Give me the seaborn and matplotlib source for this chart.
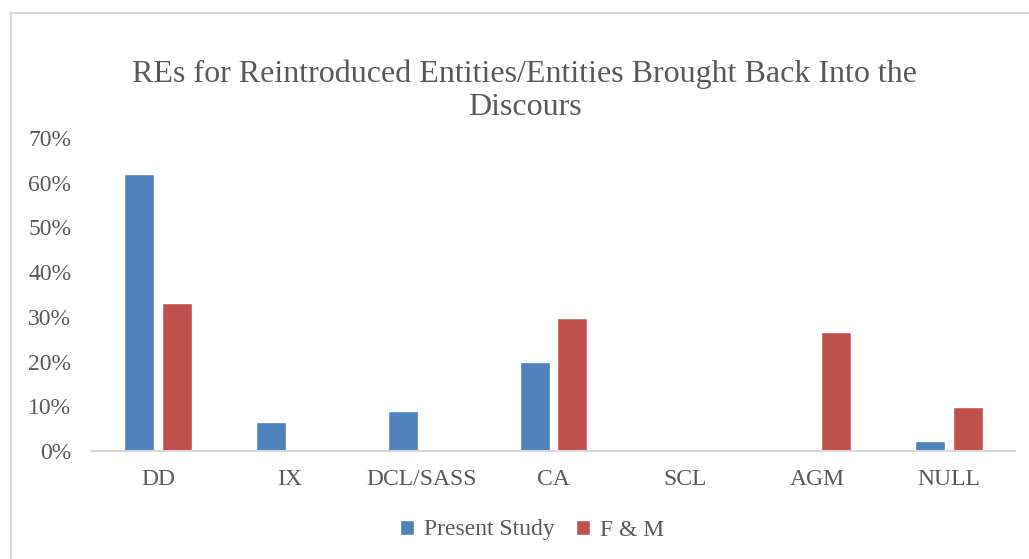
import matplotlib
matplotlib.use("Agg")
import matplotlib.pyplot as plt
from matplotlib.lines import Line2D
import seaborn as sns
import pandas as pd

categories = ["DD", "IX", "DCL/SASS", "CA", "SCL", "AGM", "NULL"]
present_study = [0.62, 0.065, 0.089, 0.199, 0.0, 0.0, 0.022]
f_and_m = [0.331, 0.0, 0.0, 0.298, 0.0, 0.266, 0.098]
series_names = ["Present Study", "F & M"]
y_ticks = [0.0, 0.1, 0.2, 0.3, 0.4, 0.5, 0.6, 0.7]
title = "REs for Reintroduced Entities/Entities Brought Back Into the\nDiscours"

df = pd.DataFrame({
    "category": categories * 2,
    "series": [series_names[0]] * len(categories) + [series_names[1]] * len(categories),
    "value": present_study + f_and_m,
})

sns.set_theme(style="white")
plt.rcParams["font.family"] = ["Liberation Serif", "DejaVu Serif"]

text_color = "#595959"
line_color = "#D9D9D9"

fig = plt.figure(figsize=(10.29, 5.59), dpi=100)
ax = fig.add_axes([92 / 1029, 1 - 451 / 559, (1015 - 92) / 1029, (451 - 138) / 559])

sns.barplot(
    data=df, x="category", y="value", hue="series", order=categories,
    hue_order=series_names, palette=["#4F81BD", "#C0504D"],
    width=0.57, gap=0.2, ax=ax, legend=True, saturation=1,
)

ax.set_ylim(0, 0.7)
ax.set_yticks(y_ticks)
ax.set_yticklabels([f"{int(round(t * 100))}%" for t in y_ticks])
ax.set_xlabel("")
ax.set_ylabel("")
ax.tick_params(axis="both", length=0, labelsize=17, labelcolor=text_color)
ax.tick_params(axis="x", pad=13)
ax.tick_params(axis="y", pad=15)
for side in ["left", "right", "top"]:
    ax.spines[side].set_visible(False)
ax.spines["bottom"].set_color(line_color)
ax.spines["bottom"].set_linewidth(1.5)
ax.grid(False)

handles, labels = ax.get_legend_handles_labels()
ax.get_legend().remove()
fig.legend(
    handles, labels, loc="center", bbox_to_anchor=(532 / 1029, 1 - 530 / 559),
    ncol=2, frameon=False, fontsize=17, labelcolor=text_color,
    handlelength=0.6, handleheight=0.6, handletextpad=0.4, columnspacing=0.9,
)

fig.text(525 / 1029, 1 - 91 / 559, title, ha="center", va="center",
         fontsize=23, color=text_color, linespacing=1.2)

# chart-area frame
fig.add_artist(Line2D([10.5 / 1029, 10.5 / 1029], [0, 1 - 12 / 559],
                      transform=fig.transFigure, color=line_color, lw=1.5))
fig.add_artist(Line2D([10 / 1029, 1], [1 - 12.5 / 559, 1 - 12.5 / 559],
                      transform=fig.transFigure, color=line_color, lw=1.5))

fig.savefig("out.png", dpi=100, facecolor="white")
